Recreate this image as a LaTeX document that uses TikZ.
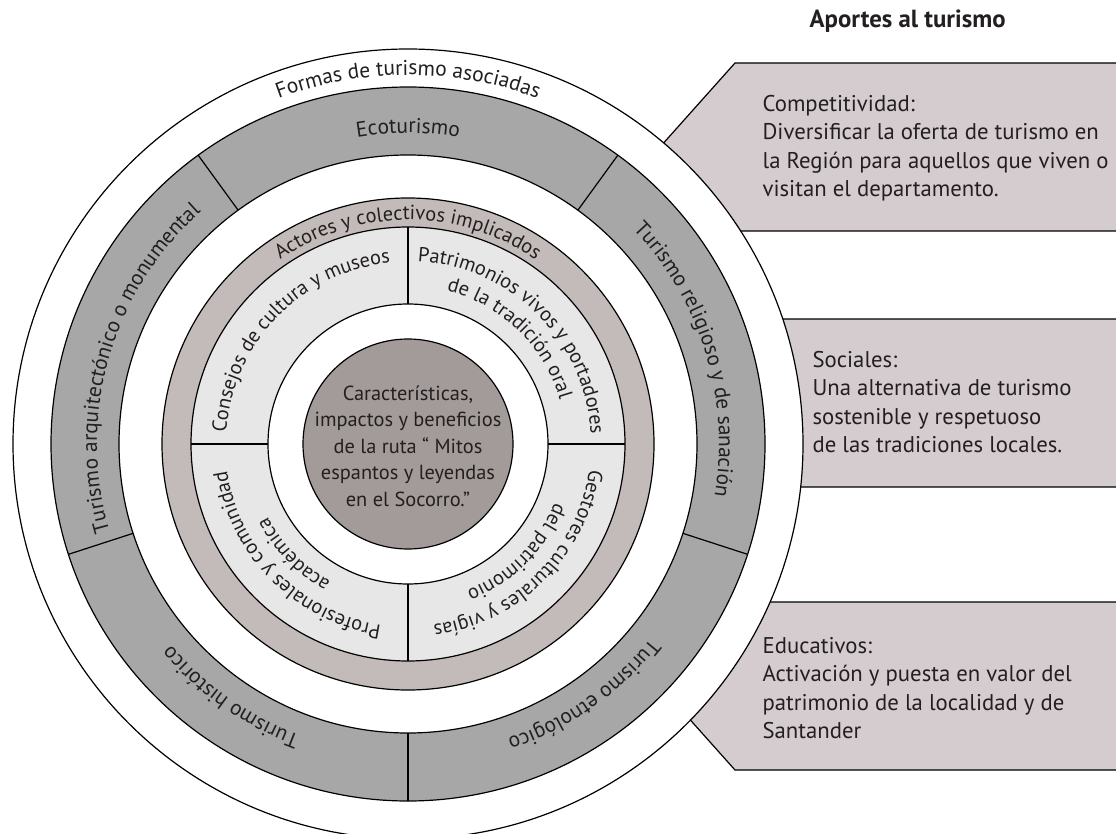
\documentclass[tikz,border=0pt]{standalone}
\usepackage{fontspec}
\setmainfont{PT Sans}
\usetikzlibrary{decorations.text}

\definecolor{ink}{HTML}{231F20}
\definecolor{bandgray}{HTML}{A7A7A7}
\definecolor{actorband}{HTML}{C3BBB9}
\definecolor{sectorfill}{HTML}{E8E7E7}
\definecolor{corefill}{HTML}{A39B99}
\definecolor{panelfill}{HTML}{D5CCCF}

\newlength\probelen
\newcommand\ringfont{\fontsize{\fsz}{27}\selectfont}
\newcommand\sectorfont{\fontsize{\ssz}{26.5}\selectfont}
\newcommand\panelfont{\fontsize{\psz}{28.5}\selectfont}
\newcommand\titlefont{\fontsize{\tsz}{\tsz}\selectfont\bfseries}
% text set clockwise along an arc: #1 font, #2 baseline radius, #3 middle angle, #4 half span, #5 text
\newcommand\ringlabel[5]{%
  \path[decorate,decoration={text along path,text align=center,text color=ink,
      text={|#1|#5}}]
    (#3+#4:#2) arc[start angle=#3+#4,end angle=#3-#4,radius=#2];}

\begin{document}
% font sizes fitted to the line widths of the layout
\settowidth{\probelen}{\normalfont\fontsize{20}{24}\selectfont la Región para aquellos que viven o}
\pgfmathsetmacro\fsz{20*326/\probelen}
\pgfmathsetmacro\ssz{20*310/\probelen}
\pgfmathsetmacro\psz{20*346/\probelen}
\settowidth{\probelen}{\normalfont\fontsize{20}{24}\selectfont\bfseries Aportes al turismo}
\pgfmathsetmacro\tsz{20*196/\probelen}
\begin{tikzpicture}[x=1pt,y=1pt,line width=1.2pt,
    panel/.style={fill=panelfill,draw=black},
    paneltext/.style={anchor=west,inner sep=0pt,align=left,text=ink,font=\panelfont}]

  \useasboundingbox (0,0) rectangle (1116,-834);
  \clip (0,0) rectangle (1116,-834);
  \fill[white] (0,0) rectangle (1116,-834);

  % contribution panels (their left ends sit under the circle)
  \path[panel] (735,-63) -- (1130,-63) -- (1130,-231) -- (735,-231) -- (660,-147) -- cycle;
  \path[panel] (735,-319) -- (1130,-319) -- (1130,-487) -- (735,-487) -- (660,-403) -- cycle;
  \path[panel] (735,-602) -- (1130,-602) -- (1130,-770) -- (735,-770) -- (660,-686) -- cycle;

  \node[font=\titlefont,text=ink,anchor=base west,inner sep=0pt] (title) at (809,-28) {Aportes al turismo};

  \node[paneltext] (comp) at (762,-148) {Competitividad:\\Diversificar la oferta de turismo en\\la Región para aquellos que viven o\\visitan el departamento.};
  \node[paneltext] (soc) at (812,-402) {Sociales:\\Una alternativa de turismo\\sostenible y respetuoso\\de las tradiciones locales.};
  \node[paneltext] (edu) at (762,-688) {Educativos:\\Activación y puesta en valor del\\patrimonio de la localidad y de\\Santander};

  \begin{scope}[shift={(408,-444)}]
    % outer ring: associated forms of tourism
    \draw[fill=white] (0,0) circle[radius=395];
    \fill[bandgray,even odd rule] (0,0) circle[radius=357] (0,0) circle[radius=289];
    \draw (0,0) circle[radius=357] (0,0) circle[radius=289];
    \foreach \a in {54,126,198,270,342} \draw (\a:289) -- (\a:357);

    % actors ring and its four sectors
    \draw[fill=actorband] (0,0) circle[radius=246];
    \draw[fill=sectorfill] (0,0) circle[radius=217];
    \draw[fill=white] (0,0) circle[radius=140];
    \foreach \a in {0,90,180,270} \draw (\a:140) -- (\a:217);

    % core
    \draw[fill=corefill] (0,0) circle[radius=105];
    \node[align=center,font=\sectorfont,text=ink,inner sep=0pt] (core) at (0,-2)
      {Características,\\impactos y beneficios\\de la ruta “ Mitos\\espantos y leyendas\\en el Socorro.”};

    \ringlabel{\ringfont}{369}{90}{50}{Formas de turismo asociadas}
    \ringlabel{\ringfont}{311}{90}{36}{Ecoturismo}
    \ringlabel{\ringfont}{311}{164}{70}{Turismo arquitectónico o monumental}
    \ringlabel{\ringfont}{311}{235}{70}{Turismo histórico}
    \ringlabel{\ringfont}{311}{305}{70}{Turismo etnológico}
    \ringlabel{\ringfont}{311}{17}{70}{Turismo religioso y de sanación}

    \ringlabel{\sectorfont}{224}{90}{70}{Actores y colectivos implicados}

    \ringlabel{\sectorfont}{182}{136}{60}{Consejos de cultura y museos}
    \ringlabel{\sectorfont}{183}{45}{60}{Patrimonios vivos y portadores}
    \ringlabel{\sectorfont}{158}{46}{60}{de la tradición oral}
    \ringlabel{\sectorfont}{183}{315}{60}{Gestores culturales y vigías}
    \ringlabel{\sectorfont}{158}{315}{60}{del patrimonio}
    \ringlabel{\sectorfont}{183}{225}{60}{Profesionales y comunidad}
    \ringlabel{\sectorfont}{158}{224}{60}{académica}
  \end{scope}
\end{tikzpicture}
\end{document}
